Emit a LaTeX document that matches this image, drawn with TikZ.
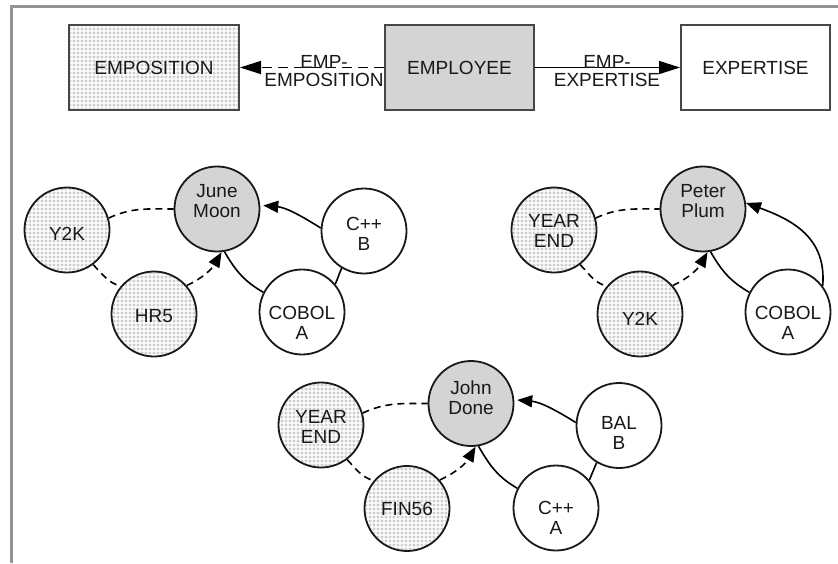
\documentclass[tikz,border=0pt]{standalone}
\usepackage{fontspec}
\setmainfont{Liberation Sans}
\usetikzlibrary{arrows.meta,patterns}

% stippled fill: a grid of small rings
\pgfdeclarepatternformonly{rings}{\pgfpoint{-0.5pt}{-0.5pt}}{\pgfpoint{4.5pt}{4.5pt}}{\pgfpoint{4pt}{4pt}}{
  \pgfsetlinewidth{0.45pt}
  \pgfpathcircle{\pgfpoint{2pt}{2pt}}{1.3pt}
  \pgfusepath{stroke}
}

\newcommand\diagfont{\fontsize{19pt}{20pt}\selectfont}
\newcommand\relfont{\fontsize{19pt}{18pt}\selectfont}

\begin{document}
\begin{tikzpicture}[x=1pt,y=1pt,font=\diagfont,text=black!90,
  frameline/.style={draw=black!42,line width=3pt},
  entity/.style={draw=black!72,line width=2pt,minimum height=85pt,inner sep=0pt},
  rec/.style={circle,draw=black!90,line width=1.8pt,minimum size=85pt,inner sep=0pt},
  ringfill/.style={preaction={fill=white},pattern=rings,pattern color=black!26},
  greyfill/.style={fill=black!17},
  tx/.style 2 args={label={[align=center,yshift=#1pt]center:{#2}}},
  rel/.style={font=\relfont,align=center,inner sep=0pt},
  bigtip/.style={-{Triangle[length=21pt,width=13pt]}},
  tip/.style={-{Triangle[length=15pt,width=12pt]}},
  link/.style={draw=black,line width=1.6pt},
  dlink/.style={link,dash pattern=on 7pt off 5pt},
  tdlink/.style={link,dash pattern=on 10pt off 6pt},
]
\useasboundingbox (0,0) rectangle (838,-563);

% outer frame
\draw[frameline] (11.5,-563) -- (11.5,-6) -- (838,-6);

% schema
\node[entity,ringfill,minimum width=170pt] (empos) at (154,-67.5) {EMPOSITION};
\node[entity,greyfill,minimum width=149pt] (emp) at (459.5,-67.5) {EMPLOYEE};
\node[entity,fill=white,minimum width=149pt] (exp) at (755.5,-67.5) {EXPERTISE};

\draw[tdlink,bigtip] (emp.west) -- (empos.east);
\draw[link,bigtip] (emp.east) -- (exp.west);
\node[rel] (r1) at (324,-71.5) {EMP-\\EMPOSITION};
\node[rel] (r2) at (607,-71.5) {EMP-\\EXPERTISE};

% occurrence: June Moon
\node[rec,ringfill,tx={-4}{Y2K}] (a1) at (67,-230) {};
\node[rec,greyfill,tx={7.5}{June\\Moon}] (a2) at (217,-209) {};
\node[rec,fill=white,tx={-3}{C++\\B}] (a3) at (364,-231) {};
\node[rec,ringfill,tx={-2.5}{HR5}] (a4) at (154,-314) {};
\node[rec,fill=white,tx={-11}{COBOL\\A}] (a5) at (302,-312) {};

\draw[dlink] (a1.16) to[out=25,in=180] (a2.180);
\draw[dlink] (a1.-53) to[out=-45,in=165] (a4.140);
\draw[dlink,tip] (a4.41) to[out=25,in=-120] (a2.-84);
\draw[link] (a2.-80) to[out=-60,in=150] (a5.153);
\draw[link] (a5.40) to[out=65,in=-115] (a3.-121);
\draw[link,tip,shorten >=3pt] (a3.176) to[out=148,in=-5] (a2.5);

% occurrence: Peter Plum
\node[rec,ringfill,tx={-0.5}{YEAR\\END}] (b1) at (554,-230) {};
\node[rec,greyfill,tx={7.5}{Peter\\Plum}] (b2) at (703,-209) {};
\node[rec,ringfill,tx={-4.5}{Y2K}] (b4) at (640,-314) {};
\node[rec,fill=white,tx={-11}{COBOL\\A}] (b5) at (788,-312) {};

\draw[dlink] (b1.16) to[out=25,in=180] (b2.180);
\draw[dlink] (b1.-53) to[out=-45,in=165] (b4.140);
\draw[dlink,tip] (b4.41) to[out=25,in=-120] (b2.-84);
\draw[link] (b2.-80) to[out=-60,in=150] (b5.153);
\draw[link,tip] (b5.37) to[out=85,in=-20,looseness=1.1] (b2.8);

% occurrence: John Done
\node[rec,ringfill,tx={-2}{YEAR\\END}] (c1) at (321,-425) {};
\node[rec,greyfill,tx={6}{John\\Done}] (c2) at (471,-403.5) {};
\node[rec,fill=white,tx={-7}{BAL\\B}] (c3) at (619,-425.5) {};
\node[rec,ringfill,tx={0}{FIN56}] (c4) at (407,-508.5) {};
\node[rec,fill=white,tx={-10}{C++\\A}] (c5) at (556,-508) {};

\draw[dlink] (c1.16) to[out=25,in=180] (c2.180);
\draw[dlink] (c1.-53) to[out=-45,in=165] (c4.140);
\draw[dlink,tip] (c4.41) to[out=25,in=-120] (c2.-84);
\draw[link] (c2.-80) to[out=-60,in=150] (c5.153);
\draw[link] (c5.40) to[out=65,in=-115] (c3.-121);
\draw[link,tip,shorten >=3pt] (c3.176) to[out=148,in=-5] (c2.5);
\end{tikzpicture}
\end{document}
